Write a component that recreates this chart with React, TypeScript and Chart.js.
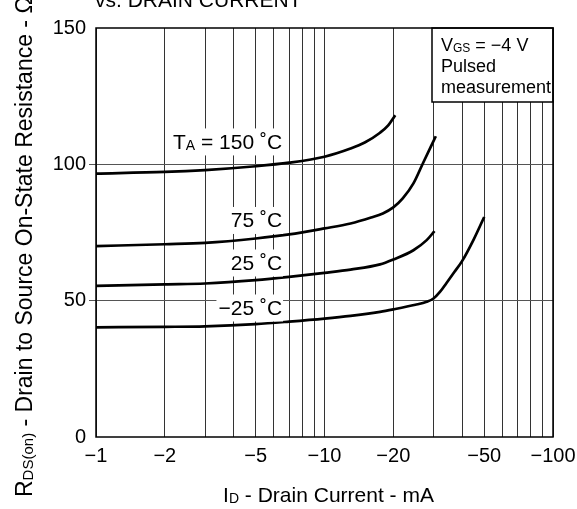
import React, { useEffect, useRef } from "react";
import { Chart, registerables } from "chart.js";

Chart.register(...registerables);

const FONT = '"Liberation Sans", Arial, Helvetica, sans-serif';

// Axis ticks / grid
const xGridValues = [1, 2, 3, 4, 5, 6, 7, 8, 9, 10, 20, 30, 40, 50, 60, 70, 80, 90, 100];
const xLabelValues = [1, 2, 5, 10, 20, 50, 100];
const yTickValues = [0, 50, 100, 150];
const yGridValues = [50, 100];

// Series: |ID| (mA) and RDS(on) (ohm)
const id150 = [1, 2, 3, 5, 7, 10, 13, 15, 17.5, 19, 20.4];
const r150 = [96.6, 97.2, 97.9, 99.3, 100.6, 102.8, 105.8, 108, 111.6, 114.3, 118];

const id75 = [1, 2, 3, 5, 7, 10, 13, 16, 18, 20, 22, 24.5, 27, 30.7];
const r75 = [70.0, 70.7, 71.2, 72.8, 74.3, 76.5, 78.3, 80.5, 82.0, 84.2, 87.5, 93.0, 100.5, 110.3];

const id25 = [1, 2, 3, 5, 7, 10, 13, 17.5, 20, 24.5, 28, 30.3];
const r25 = [55.4, 56.0, 56.3, 57.5, 58.7, 60.2, 61.4, 63.3, 65.1, 68.5, 72.2, 75.5];

const idM25 = [1, 2, 3, 5, 7, 10, 13, 17.5, 20, 25, 28, 30, 32, 34.2, 37, 40, 45, 50];
const rM25 = [40.2, 40.4, 40.6, 41.4, 42.3, 43.4, 44.4, 45.9, 46.8, 48.5, 49.6, 50.8, 53.2, 56.5, 60.5, 64.5, 72.5, 80.7];

// Curve labels (rich text: [text, isSubscript])
const curveLabels: [string, boolean][][] = [
  [["T", false], ["A", true], [" = 150 \u02DAC", false]],
  [["75 \u02DAC", false]],
  [["25 \u02DAC", false]],
  [["\u221225 \u02DAC", false]],
];
const labelAnchorX = 6.52;
const labelAnchorY = [108.4, 79.6, 64.0, 47.5];

type Seg = [string, boolean];

function drawRich(
  ctx: CanvasRenderingContext2D,
  segs: Seg[],
  x: number,
  y: number,
  align: "left" | "right" | "center",
  size: number,
  measureOnly = false
) {
  const subSize = Math.round(size * 0.67);
  const widths = segs.map(([t, sub]) => {
    ctx.font = `${sub ? subSize : size}px ${FONT}`;
    return ctx.measureText(t).width;
  });
  const total = widths.reduce((a, b) => a + b, 0);
  let cx = align === "right" ? x - total : align === "center" ? x - total / 2 : x;
  const left = cx;
  if (!measureOnly) {
    ctx.textAlign = "left";
    ctx.textBaseline = "alphabetic";
    segs.forEach(([t, sub], i) => {
      ctx.font = `${sub ? subSize : size}px ${FONT}`;
      ctx.fillText(t, cx, y + (sub ? 1 : 0));
      cx += widths[i];
    });
  }
  return { left, width: total };
}

const overlayPlugin = {
  id: "overlay",
  afterDraw(chart: any) {
    const { ctx, chartArea } = chart;
    const xs = chart.scales.x;
    const ys = chart.scales.y;
    const { left, right, top, bottom } = chartArea;
    ctx.save();
    ctx.fillStyle = "#000";
    ctx.strokeStyle = "#000";

    // Curve labels with white background
    curveLabels.forEach((segs, i) => {
      const px = xs.getPixelForValue(labelAnchorX);
      const py = ys.getPixelForValue(labelAnchorY[i]);
      const m = drawRich(ctx, segs, px, py + 7.5, "right", 21, true);
      ctx.fillStyle = "#fff";
      ctx.fillRect(m.left - 2, py - 13, m.width + 3, 27);
      ctx.fillStyle = "#000";
      drawRich(ctx, segs, px, py + 7.5, "right", 21);
    });

    // Annotation box
    const bw = 121;
    const bx = right - bw;
    const by = top;
    const bh = 74;
    ctx.fillStyle = "#fff";
    ctx.fillRect(bx, by, bw, bh);
    ctx.lineWidth = 1.5;
    ctx.strokeRect(bx, by, bw, bh);
    ctx.fillStyle = "#000";
    drawRich(ctx, [["V", false], ["GS", true], [" = \u22124 V", false]], bx + 9, by + 23, "left", 18);
    drawRich(ctx, [["Pulsed", false]], bx + 9, by + 44, "left", 18);
    drawRich(ctx, [["measurement", false]], bx + 9, by + 65, "left", 18);

    // Frame
    ctx.lineWidth = 1.5;
    ctx.strokeRect(left, top, right - left, bottom - top);

    // X axis title
    drawRich(ctx, [["I", false], ["D", true], [" - Drain Current - mA", false]], (left + right) / 2 + 4, 502, "center", 21);

    // Y axis title
    ctx.save();
    ctx.translate(31.5, 497);
    ctx.rotate(-Math.PI / 2);
    drawRich(
      ctx,
      [["R", false], ["DS(on)", true], [" - Drain to Source On-State Resistance - \u03A9", false]],
      0,
      0,
      "left",
      23
    );
    ctx.restore();

    // Top title (clipped remainder)
    drawRich(ctx, [["vs. DRAIN CURRENT", false]], 95, 7, "left", 21);

    ctx.restore();
  },
};

export default function App() {
  const ref = useRef<HTMLCanvasElement | null>(null);

  useEffect(() => {
    if (!ref.current) return;
    const mk = (ids: number[], rs: number[]) => ({
      data: ids.map((x, i) => ({ x, y: rs[i] })),
      borderColor: "#000",
      borderWidth: 2.7,
      pointRadius: 0,
      fill: false,
      cubicInterpolationMode: "monotone" as const,
    });
    const chart = new Chart(ref.current, {
      type: "line",
      data: {
        datasets: [mk(id150, r150), mk(id75, r75), mk(id25, r25), mk(idM25, rM25)],
      },
      options: {
        responsive: false,
        animation: false,
        devicePixelRatio: 1,
        layout: { padding: { top: 28, right: 24, left: 0, bottom: 0 } },
        plugins: { legend: { display: false }, tooltip: { enabled: false }, title: { display: false } },
        scales: {
          x: {
            type: "logarithmic",
            min: 1,
            max: 100,
            afterBuildTicks: (s: any) => {
              s.ticks = xGridValues.map((v) => ({ value: v }));
            },
            afterFit: (s: any) => {
              s.height = 72;
              s.paddingLeft = 0;
              s.paddingRight = 0;
            },
            ticks: {
              autoSkip: false,
              maxRotation: 0,
              minRotation: 0,
              padding: 7,
              color: "#000",
              font: { family: FONT, size: 20 },
              callback: (v: any) => (xLabelValues.includes(Number(v)) ? "\u2212" + v : ""),
            },
            grid: { color: "#333", lineWidth: 1, drawTicks: false },
            border: { display: false },
          },
          y: {
            type: "linear",
            min: 0,
            max: 150,
            afterBuildTicks: (s: any) => {
              s.ticks = yTickValues.map((v) => ({ value: v }));
            },
            afterFit: (s: any) => {
              s.width = 96;
              s.paddingTop = 0;
              s.paddingBottom = 0;
            },
            ticks: {
              padding: 3,
              color: "#000",
              font: { family: FONT, size: 20 },
              callback: (v: any) => String(v),
            },
            grid: {
              color: (c: any) =>
                c.tick && yGridValues.includes(c.tick.value) ? "#555" : "rgba(0,0,0,0)",
              lineWidth: 1,
              tickLength: 7,
            },
            border: { display: false },
          },
        },
      },
      plugins: [overlayPlugin],
    });
    return () => chart.destroy();
  }, []);

  return (
    <div style={{ position: "fixed", left: 0, top: 0, width: 577, height: 509, background: "#fff" }}>
      <canvas ref={ref} width={577} height={509} style={{ display: "block", width: 577, height: 509 }} />
    </div>
  );
}
